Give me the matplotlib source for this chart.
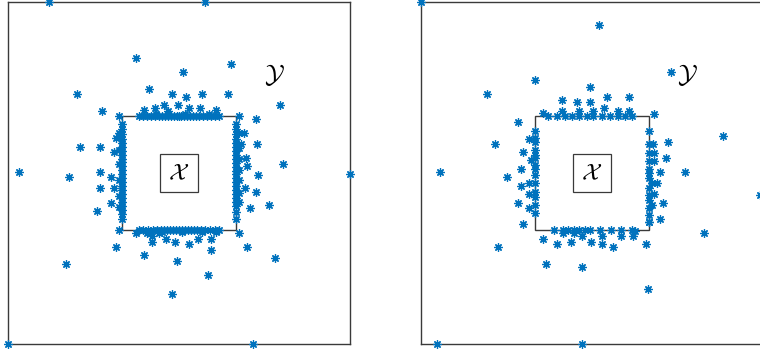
import matplotlib.pyplot as plt
from matplotlib.patches import Rectangle

plt.rcParams['mathtext.fontset'] = 'cm'

BLUE = '#0072BD'
FRAME = '#3a3a3a'

# inner box X = [-1, 1]^2, outer box Y = [-3, 3]^2, label box = [-1/3, 1/3]^2
outer_half = 3.0
inner_half = 1.0
label_half = 1 / 3

# ---- left panel samples ----
left_scatter = [
    (-2.28, 3.0), (0.46, 3.0), (-0.75, 2.02), (0.91, 1.91), (0.07, 1.77),
    (-1.79, 1.39), (-0.53, 1.47), (-0.12, 1.39), (0.12, 1.33), (0.40, 1.39),
    (0.86, 1.39), (1.77, 1.19), (-1.35, 1.09), (1.35, 0.95), (-0.61, 1.11),
    (-0.42, 1.14), (-0.26, 1.19), (-0.19, 1.09), (-0.02, 1.19), (0.18, 1.14),
    (0.37, 1.14), (0.65, 1.11), (-1.05, 1.0), (1.05, 1.0), (1.14, 0.70),
    (1.37, 0.51), (1.82, 0.16), (1.18, 0.26), (1.19, 0.12), (1.09, 0.51),
    (-1.74, 0.46), (-1.39, 0.46), (-2.81, 0.02), (3.0, -0.02), (-1.39, 0.02),
    (-1.11, 0.61), (-1.14, 0.37), (-1.93, -0.07), (-1.19, -0.07), (-1.39, -0.26),
    (-1.14, -0.26), (-1.19, -0.53), (-1.44, -0.67), (-1.05, -1.0), (-1.11, -1.30),
    (-1.98, -1.60), (-0.61, -1.44), (-0.04, -1.54), (-0.12, -2.12), (-0.75, -1.05),
    (-0.56, -1.05), (-0.47, -1.11), (-0.47, -1.21), (-0.35, -1.05), (-0.23, -1.16),
    (-0.07, -1.21), (0.18, -1.25), (0.33, -1.16), (0.56, -1.16), (0.56, -1.35),
    (0.65, -1.04), (1.05, -1.05), (1.19, -1.30), (1.68, -1.49), (0.51, -1.79),
    (1.39, -0.04), (1.35, -0.33), (1.58, -0.56), (1.25, -0.61), (1.16, -0.26),
    (-3.0, -3.0), (1.30, -3.0),
]
left_top_x = [-0.70, -0.63, -0.56, -0.49, -0.42, -0.35, -0.30, -0.25, -0.19,
              -0.14, -0.09, -0.04, 0.0, 0.04, 0.09, 0.14, 0.19, 0.25, 0.30,
              0.35, 0.42, 0.49, 0.56, 0.63, 0.70]
left_bottom_x = [-0.70, -0.63, -0.54, -0.46, -0.39, -0.32, -0.26, -0.21, -0.16,
                 -0.11, -0.05, 0.0, 0.05, 0.11, 0.16, 0.21, 0.26, 0.32, 0.39,
                 0.46, 0.54, 0.63, 0.70]
left_left_y = [0.86, 0.77, 0.68, 0.60, 0.53, 0.46, 0.39, 0.32, 0.25, 0.19, 0.12,
               0.05, -0.02, -0.09, -0.16, -0.23, -0.30, -0.37, -0.44, -0.51,
               -0.58, -0.65, -0.72, -0.81]
left_right_y = [0.86, 0.77, 0.68, 0.60, 0.53, 0.46, 0.39, 0.32, 0.25, 0.18, 0.11,
                0.04, -0.02, -0.09, -0.16, -0.23, -0.30, -0.37, -0.44, -0.51,
                -0.58, -0.68, -0.81]
left_near_edge = [
    (-1.05, 0.70), (-1.05, 0.40), (-1.05, 0.16), (-1.05, -0.12), (-1.05, -0.40),
    (-1.05, -0.60), (1.05, 0.70), (1.05, 0.44), (1.05, 0.25), (1.05, 0.05),
    (1.05, -0.12), (1.05, -0.35), (1.05, -0.51), (-0.40, 1.03), (0.10, 1.03),
    (0.52, 1.03), (-0.30, -1.03), (0.05, -1.03), (0.40, -1.03),
]

# ---- right panel samples ----
right_scatter = [
    (-3.0, 3.0), (0.12, 2.60), (1.39, 1.77), (-1.0, 1.63), (-1.84, 1.39),
    (-0.04, 1.51), (-0.53, 1.28), (-0.26, 1.25), (-0.04, 1.25), (0.26, 1.33),
    (0.65, 1.33), (-0.53, 1.09), (-0.23, 1.09), (0.02, 1.09), (0.21, 1.14),
    (0.46, 1.09), (0.65, 1.09), (-0.86, 1.05), (1.09, 1.04), (-1.30, 0.89),
    (-1.70, 0.51), (-2.67, 0.02), (2.30, 0.65), (1.33, 0.54), (1.30, 0.26),
    (1.19, 0.02), (1.63, 0.02), (-1.21, 0.37), (-1.11, 0.60), (-1.25, 0.07),
    (-1.07, 0.23), (-1.49, -0.07), (-1.25, -0.23), (-1.11, -0.18), (-1.30, -0.53),
    (-1.11, -0.37), (-1.11, -0.61), (-1.21, -0.89), (-1.65, -1.30), (-0.86, -1.16),
    (-0.61, -1.25), (-0.81, -1.60), (-0.18, -1.65), (-0.37, -1.21), (-0.18, -1.11),
    (-0.02, -1.21), (0.18, -1.11), (0.18, -1.25), (0.37, -1.30), (0.51, -1.11),
    (0.72, -1.11), (0.75, -1.02), (0.95, -1.25), (1.19, -0.81), (1.0, -0.86),
    (1.96, -1.05), (0.98, -2.04), (-2.72, -3.0), (-0.18, -3.0), (2.95, -0.39),
    (1.14, -0.18), (1.05, -0.18), (1.09, -0.37), (1.25, -0.53), (1.05, -0.56),
    (1.07, 0.51), (1.09, 0.35), (1.09, 0.21), (-0.51, -1.05), (-0.32, -1.05),
]
right_top_x = [-0.77, -0.61, -0.47, -0.35, -0.23, -0.09, 0.02, 0.18, 0.32,
               0.46, 0.58, 0.70]
right_bottom_x = [-0.67, -0.51, -0.42, -0.32, -0.23, -0.12, -0.04, 0.14, 0.33,
                  0.51, 0.70]
right_left_y = [0.74, 0.61, 0.54, 0.40, 0.32, 0.26, 0.14, 0.07, -0.04, -0.18,
                -0.33, -0.42, -0.56, -0.70]
right_right_y = [0.74, 0.51, 0.35, 0.21, 0.07, 0.0, -0.09, -0.26, -0.39, -0.47,
                 -0.61, -0.74, -0.86]

# 8-spoke asterisk, like a '+' over an 'x'
ASTERISK = (8, 2, 0)


def collect(scatter, top_x, bottom_x, left_y, right_y, extra=()):
    xs = [p[0] for p in scatter] + [p[0] for p in extra]
    ys = [p[1] for p in scatter] + [p[1] for p in extra]
    xs += top_x + bottom_x
    ys += [inner_half] * len(top_x) + [-inner_half] * len(bottom_x)
    xs += [-inner_half] * len(left_y) + [inner_half] * len(right_y)
    ys += left_y + right_y
    return xs, ys


def draw_panel(ax, xs, ys):
    ax.set_xlim(-outer_half, outer_half)
    ax.set_ylim(-outer_half, outer_half)
    ax.set_aspect('equal')
    ax.set_xticks([])
    ax.set_yticks([])
    for sp in ax.spines.values():
        sp.set_color(FRAME)
        sp.set_linewidth(1.0)

    ax.add_patch(Rectangle((-inner_half, -inner_half), 2 * inner_half, 2 * inner_half,
                           fill=False, ec=FRAME, lw=1.0, zorder=1))
    ax.add_patch(Rectangle((-label_half, -label_half), 2 * label_half, 2 * label_half,
                           fill=False, ec=FRAME, lw=0.9, zorder=1))

    ax.plot(xs, ys, linestyle='none', marker=ASTERISK, color=BLUE,
            markersize=6, markeredgewidth=0.9, clip_on=False, zorder=3)

    ax.text(0, 0, r'$\mathcal{X}$', fontsize=17, ha='center', va='center')
    ax.text(1.67, 1.72, r'$\mathcal{Y}$', fontsize=19, ha='center', va='center')


fig = plt.figure(figsize=(7.6, 3.49), dpi=100)
ax1 = fig.add_axes([8 / 760, 5 / 349, 342 / 760, 342 / 349])
ax2 = fig.add_axes([421 / 760, 5 / 349, 342 / 760, 342 / 349])

draw_panel(ax1, *collect(left_scatter, left_top_x, left_bottom_x,
                         left_left_y, left_right_y, left_near_edge))
draw_panel(ax2, *collect(right_scatter, right_top_x, right_bottom_x,
                         right_left_y, right_right_y))

fig.savefig('out.png', dpi=100)
